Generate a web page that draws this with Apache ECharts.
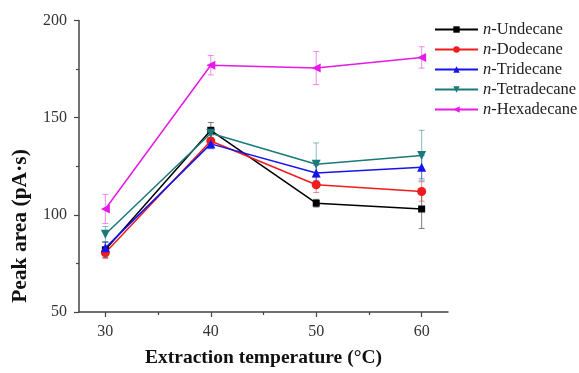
<!DOCTYPE html>
<html>
<head>
<meta charset="utf-8">
<script src="https://cdn.jsdelivr.net/npm/echarts@6/dist/echarts.min.js"></script>
<style>html,body{margin:0;padding:0;background:#fff}#c{width:579px;height:373px}</style>
</head>
<body>
<div id="c"></div>
<script>
var temperatures = [30, 40, 50, 60];
var seriesNames = ['n-Undecane', 'n-Dodecane', 'n-Tridecane', 'n-Tetradecane', 'n-Hexadecane'];
var undecane = [82, 143.5, 106, 103];
var dodecane = [80.5, 138, 115.5, 112];
var tridecane = [83, 136.5, 121.5, 124.5];
var tetradecane = [90, 142, 126, 130.5];
var hexadecane = [103, 177, 175.5, 181];
var undecaneErr = [4, 4, 2, 10];
var dodecaneErr = [3, 3, 4, 5];
var tridecaneErr = [3, 2.5, 4, 6];
var tetradecaneErr = [4, 3, 11, 13];
var hexadecaneErr = [7.5, 5, 8.5, 5.5];
var yTicks = [50, 100, 150, 200];
var xLabelTicks = [30, 40, 50, 60];
var xMinorTicks = [35, 45, 55];
var xTitle = 'Extraction temperature (°C)';
var yTitle = 'Peak area (pA·s)';

var values = [undecane, dodecane, tridecane, tetradecane, hexadecane];
var errors = [undecaneErr, dodecaneErr, tridecaneErr, tetradecaneErr, hexadecaneErr];
var colors = ['#000000', '#ee1c1c', '#1414ee', '#187a7a', '#e619e6'];
var symbols = ['rect', 'circle', 'triangle', 'triangle', 'triangle'];
var rotates = [0, 0, 0, 180, 90];
var serif = '"Liberation Serif", "Times New Roman", serif';

var series = [];
values.forEach(function (vals, i) {
  var errData = temperatures.map(function (t, k) {
    return [t, vals[k] - errors[i][k], vals[k] + errors[i][k]];
  });
  series.push({
    type: 'custom',
    name: seriesNames[i] + '_err',
    xAxisIndex: 0, yAxisIndex: 0,
    silent: true,
    z: 1,
    data: errData,
    renderItem: function (params, api) {
      var x = api.value(0);
      var lo = api.coord([x, api.value(1)]);
      var hi = api.coord([x, api.value(2)]);
      var w = 3;
      var st = { stroke: colors[i], lineWidth: 1, opacity: 0.5 };
      return {
        type: 'group',
        children: [
          { type: 'line', shape: { x1: lo[0], y1: lo[1], x2: hi[0], y2: hi[1] }, style: st },
          { type: 'line', shape: { x1: lo[0] - w, y1: lo[1], x2: lo[0] + w, y2: lo[1] }, style: st },
          { type: 'line', shape: { x1: hi[0] - w, y1: hi[1], x2: hi[0] + w, y2: hi[1] }, style: st }
        ]
      };
    }
  });
  series.push({
    type: 'line',
    name: seriesNames[i],
    xAxisIndex: 0, yAxisIndex: 0,
    z: 3,
    data: temperatures.map(function (t, k) { return [t, vals[k]]; }),
    symbol: symbols[i],
    symbolRotate: rotates[i],
    symbolSize: symbols[i] === 'rect' ? 7 : 9,
    showAllSymbol: true,
    lineStyle: { color: colors[i], width: 1.5 },
    itemStyle: { color: colors[i] },
    emphasis: { disabled: true }
  });
});

var chart = echarts.init(document.getElementById('c'), null, { renderer: 'canvas' });
chart.setOption({
  animation: false,
  backgroundColor: '#fff',
  grid: { left: 79, right: 131, top: 20.5, bottom: 53.5, containLabel: false },
  graphic: [{
    type: 'text',
    x: 20, y: 226,
    rotation: Math.PI / 2,
    style: {
      text: yTitle,
      fontFamily: serif, fontSize: 21.5, fontWeight: 'bold', fill: '#111',
      align: 'center', verticalAlign: 'middle'
    }
  }],
  legend: {
    data: seriesNames,
    orient: 'vertical',
    left: 434,
    top: 21,
    padding: 0,
    itemWidth: 43,
    itemHeight: 8,
    itemGap: 3,
    textStyle: {
      fontFamily: serif, fontSize: 16.5, color: '#222',
      rich: {
        i: { fontFamily: serif, fontSize: 16.5, fontStyle: 'italic', color: '#222' },
        r: { fontFamily: serif, fontSize: 16.5, color: '#222' }
      }
    },
    formatter: function (name) {
      return '{i|n}{r|' + name.slice(1) + '}';
    }
  },
  xAxis: [{
    type: 'value',
    min: 27.5, max: 62.5,
    name: xTitle,
    nameLocation: 'middle',
    nameGap: 36,
    nameTextStyle: { fontFamily: serif, fontSize: 19.5, fontWeight: 'bold', color: '#111' },
    axisLine: { show: true, lineStyle: { color: '#444', width: 1.5 } },
    axisTick: { show: true, length: 5, inside: false, customValues: xLabelTicks, lineStyle: { color: '#444', width: 1.2 } },
    axisLabel: { customValues: xLabelTicks, fontFamily: serif, fontSize: 16, color: '#333', margin: 12 },
    splitLine: { show: false }
  }, {
    type: 'value',
    min: 27.5, max: 62.5,
    position: 'bottom',
    axisLine: { show: false },
    axisTick: { show: true, length: 3, customValues: xMinorTicks, lineStyle: { color: '#444', width: 1.2 } },
    axisLabel: { show: false, customValues: xMinorTicks },
    splitLine: { show: false }
  }],
  yAxis: {
    type: 'value',
    min: 50, max: 200, interval: 50,
    axisLine: { show: true, lineStyle: { color: '#444', width: 1.5 } },
    axisTick: { show: true, length: 5, lineStyle: { color: '#444', width: 1.2 } },
    minorTick: { show: true, splitNumber: 2, length: 3, lineStyle: { color: '#444', width: 1.2 } },
    axisLabel: { fontFamily: serif, fontSize: 16, color: '#333', margin: 12,
      formatter: function (v) { return yTicks.indexOf(v) >= 0 ? String(v) : ''; } },
    splitLine: { show: false }
  },
  series: series
});
</script>
</body>
</html>
